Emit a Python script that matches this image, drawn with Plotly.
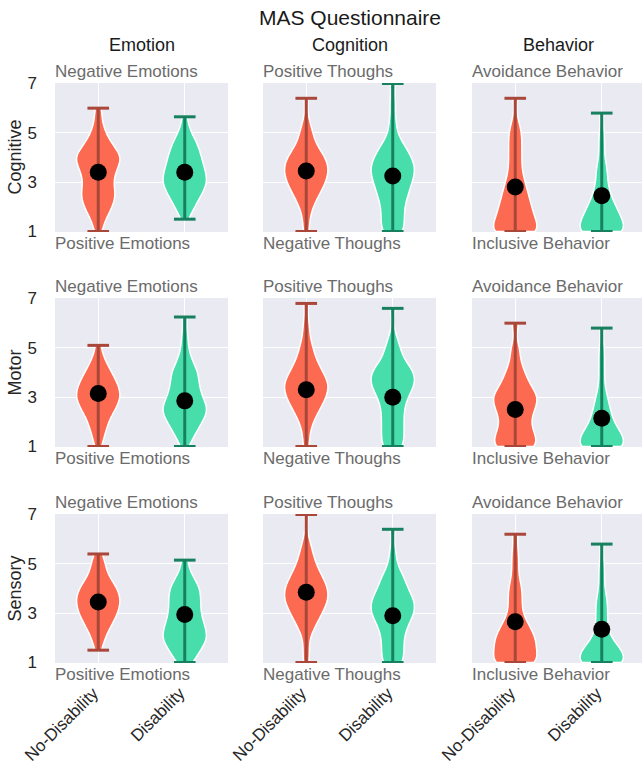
import plotly.graph_objects as go
import numpy as np

# ---------------- data (value, count) pairs ----------------
rows = ["Cognitive", "Motor", "Sensory"]
cols = ["Emotion", "Cognition", "Behavior"]
groups = ["No-Disability", "Disability"]
top_labels = ["Negative Emotions", "Positive Thoughs", "Avoidance Behavior"]
bottom_labels = ["Positive Emotions", "Negative Thoughs", "Inclusive Behavior"]
yticks = [1, 3, 5, 7]

# Cognitive row
cog_emo_nd = [(1, 1), (1.5, 2), (2, 4), (2.5, 5), (3, 4), (3.5, 5), (4, 7), (4.5, 4), (5, 2), (5.5, 1), (6, 1)]
cog_emo_d = [(1.5, 1), (2, 3), (2.5, 5), (3, 7), (3.5, 6), (4, 5), (4.5, 4), (5, 2), (5.65, 1)]
cog_cog_nd = [(1, 1), (1.5, 1), (2, 2), (2.5, 4), (3, 6), (3.5, 7), (4, 6), (4.5, 3), (5, 2), (5.5, 1), (6.4, 1)]
cog_cog_d = [(1, 3), (1.5, 3), (2, 3), (2.5, 4), (3, 5), (3.5, 6), (4, 5), (4.5, 3), (5, 1), (5.5, 1), (6.2, 1), (7, 1)]
cog_beh_nd = [(1, 8), (1.5, 6), (2, 5), (2.5, 4), (3, 3), (3.5, 2), (4, 2), (4.5, 2), (5, 2), (5.5, 1), (6.4, 1)]
cog_beh_d = [(1, 9), (1.5, 7), (2, 5), (2.5, 3), (3, 2), (3.5, 2), (4, 1), (4.5, 1), (5, 1), (5.8, 1)]
# Motor row
mot_emo_nd = [(1, 1), (1.5, 2), (2, 3), (2.5, 5), (3, 7), (3.5, 6), (4, 4), (4.5, 2), (5.1, 1)]
mot_emo_d = [(1, 1), (1.5, 3), (2, 5), (2.5, 7), (3, 5), (3.5, 4), (4, 4), (4.5, 2), (5, 1), (5.5, 1), (6.25, 1)]
mot_cog_nd = [(1, 1), (1.5, 1), (2, 2), (2.5, 4), (3, 6), (3.5, 7), (4, 5), (4.5, 3), (5, 2), (5.5, 1), (6, 1), (6.8, 1)]
mot_cog_d = [(1, 3), (1.5, 3), (2, 3), (2.5, 3), (3, 4), (3.5, 6), (4, 6), (4.5, 3), (5, 2), (5.5, 1), (6.6, 1)]
mot_beh_nd = [(1, 5), (1.5, 4), (2, 3), (2.5, 4), (3, 5), (3.5, 3), (4, 2), (4.5, 1), (5, 1), (6, 1)]
mot_beh_d = [(1, 9), (1.5, 7), (2, 4), (2.5, 3), (3, 2), (3.5, 1), (4, 1), (4.5, 1), (5, 1), (5.8, 1)]
# Sensory row
sen_emo_nd = [(1.5, 1), (2, 2), (2.5, 4), (3, 6), (3.5, 7), (4, 6), (4.5, 3), (5, 2), (5.4, 1)]
sen_emo_d = [(1, 2), (1.5, 4), (2, 6), (2.5, 5), (3, 4), (3.5, 4), (4, 4), (4.5, 2), (5.15, 1)]
sen_cog_nd = [(1, 1), (1.5, 1), (2, 1), (2.5, 3), (3, 5), (3.5, 7), (4, 7), (4.5, 5), (5, 3), (5.5, 2), (6, 1), (7, 1)]
sen_cog_d = [(1, 3), (1.5, 3), (2, 3), (2.5, 4), (3, 6), (3.5, 6), (4, 4), (4.5, 3), (5, 1), (5.5, 1), (6.4, 1)]
sen_beh_nd = [(1, 7), (1.5, 6), (2, 6), (2.5, 4), (3, 2), (3.5, 2), (4, 2), (4.5, 1), (5, 1), (5.5, 1), (6.2, 1)]
sen_beh_d = [(1, 9), (1.5, 7), (2, 3), (2.5, 2), (3, 2), (3.5, 2), (4, 1), (4.5, 1), (5, 1), (5.8, 1)]

# mean markers  [row][col] -> (No-Disability, Disability)
means = [
    [(3.4, 3.4), (3.45, 3.25), (2.8, 2.45)],
    [(3.15, 2.85), (3.3, 3.0), (2.5, 2.15)],
    [(3.45, 2.95), (3.85, 2.9), (2.65, 2.35)],
]

samples = [
    [(cog_emo_nd, cog_emo_d), (cog_cog_nd, cog_cog_d), (cog_beh_nd, cog_beh_d)],
    [(mot_emo_nd, mot_emo_d), (mot_cog_nd, mot_cog_d), (mot_beh_nd, mot_beh_d)],
    [(sen_emo_nd, sen_emo_d), (sen_cog_nd, sen_cog_d), (sen_beh_nd, sen_beh_d)],
]

# ---------------- styles ----------------
fill_colors = ["#FC6A52", "#48DEAC"]
line_colors = ["#A9473A", "#17805F"]
FONT = "Liberation Sans, Arial, sans-serif"
W, H = 642, 770
col_px = [(55, 228), (263, 436), (472, 645)]
row_px = [(83, 232), (298, 447), (514, 663)]


def expand(pairs):
    vals, cnts = zip(*pairs)
    return np.repeat(np.array(vals, float), np.array(cnts, int))


fig = go.Figure()
layout = dict()
annotations = []

for r in range(3):
    for c in range(3):
        idx = r * 3 + c + 1
        xa = "x" if idx == 1 else f"x{idx}"
        ya = "y" if idx == 1 else f"y{idx}"
        x0p, x1p = col_px[c]
        y0p, y1p = row_px[r]
        xr_right = 2.5
        dom_x1 = x1p / W
        if x1p > W:
            xr_right = 0.5 + 2.0 * (W - x0p) / (x1p - x0p)
            dom_x1 = 1.0
        layout["xaxis" if idx == 1 else f"xaxis{idx}"] = dict(
            domain=[x0p / W, dom_x1], range=[0.5, xr_right], anchor=ya, automargin=False,
            tickvals=[1, 2], ticktext=groups if r == 2 else ["", ""],
            showticklabels=(r == 2), tickangle=-45, ticklabelstandoff=16, ticklabelshift=-5,
            showgrid=True, gridcolor="white", gridwidth=1, zeroline=False,
            showline=False, ticks="", tickfont=dict(size=17, color="#262626", family=FONT),
        )
        layout["yaxis" if idx == 1 else f"yaxis{idx}"] = dict(
            domain=[1 - y1p / H, 1 - y0p / H], range=[0.98, 7.02], anchor=xa, automargin=False,
            tickvals=yticks, showticklabels=(c == 0), ticklabelstandoff=17,
            showgrid=True, gridcolor="white", gridwidth=1, zeroline=False,
            showline=False, ticks="", tickfont=dict(size=17, color="#262626", family=FONT),
        )
        for g in range(2):
            pos = g + 1
            ys = expand(samples[r][c][g])
            fig.add_trace(go.Violin(
                y=ys, x0=pos, xaxis=xa, yaxis=ya, width=0.5, scalemode="width",
                spanmode="hard", bandwidth=0.34, points=False,
                box_visible=False, meanline_visible=False,
                fillcolor=fill_colors[g], line=dict(color="white", width=1.5),
                opacity=1, showlegend=False, hoverinfo="skip",
            ))
            mn, mx = float(ys.min()), float(ys.max())
            fig.add_trace(go.Scatter(
                x=[pos, pos, None, pos - 0.125, pos + 0.125, None, pos - 0.125, pos + 0.125],
                y=[mn, mx, None, mn, mn, None, mx, mx],
                mode="lines", line=dict(color=line_colors[g], width=3),
                xaxis=xa, yaxis=ya, showlegend=False, hoverinfo="skip",
            ))
            fig.add_trace(go.Scatter(
                x=[pos], y=[means[r][c][g]], mode="markers",
                marker=dict(color="black", size=17), xaxis=xa, yaxis=ya,
                showlegend=False, hoverinfo="skip",
            ))
        annotations.append(dict(
            text=top_labels[c], xref=f"{xa} domain", yref=f"{ya} domain", x=-0.01, y=1,
            xanchor="left", yanchor="bottom", yshift=0, showarrow=False,
            font=dict(size=17, color="#6b6b6b", family=FONT)))
        annotations.append(dict(
            text=bottom_labels[c], xref=f"{xa} domain", yref=f"{ya} domain", x=-0.01, y=0,
            xanchor="left", yanchor="top", yshift=0, showarrow=False,
            font=dict(size=17, color="#6b6b6b", family=FONT)))
    # row (y-axis) title
    y0p, y1p = row_px[r]
    annotations.append(dict(
        text=rows[r], xref="paper", yref="paper", x=14 / W, y=1 - ((y0p + y1p) / 2) / H,
        xanchor="center", yanchor="middle", textangle=-90, showarrow=False,
        font=dict(size=18, color="#262626", family=FONT)))

for c in range(3):
    x0p, x1p = col_px[c]
    annotations.append(dict(
        text=cols[c], xref="paper", yref="paper", x=((x0p + x1p) / 2) / W, y=1 - 45 / H,
        xanchor="center", yanchor="middle", showarrow=False,
        font=dict(size=18, color="#1a1a1a", family=FONT)))

fig.update_layout(
    **layout,
    annotations=annotations,
    title=dict(text="MAS Questionnaire", x=350 / W, xanchor="center", y=1 - 18 / H,
               yanchor="middle", automargin=False,
               font=dict(size=21, color="#1a1a1a", family=FONT)),
    width=W, height=H, margin=dict(l=0, r=0, t=0, b=0),
    plot_bgcolor="#EAEAF2", paper_bgcolor="white",
    font=dict(family=FONT),
)

fig.write_html(
    "out.html",
    config={"displayModeBar": False},
    post_script="document.body.style.margin='0px';document.body.style.overflow='hidden';",
)
